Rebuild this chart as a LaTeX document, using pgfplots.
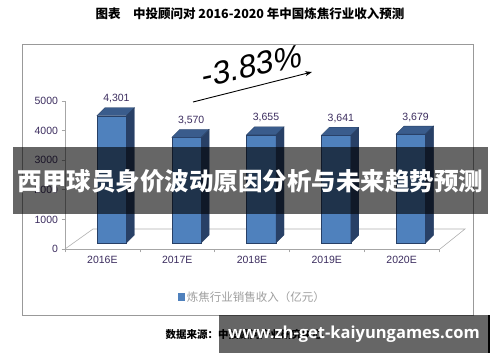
\documentclass[border=0pt]{standalone}
\usepackage{fontspec}
\setmainfont{Liberation Sans}
\newfontfamily\cjk{Noto Sans CJK SC}
\newfontfamily\wm{Open Sans}
\newfontfamily\pctfont{Liberation Sans}[FakeSlant=0.2]
\usepackage{pgfplots}
\pgfplotsset{compat=1.18}
\usepackage{pgfplotstable}
\usetikzlibrary{arrows.meta}
\definecolor{barfront}{RGB}{79,129,189}
\definecolor{bartop}{RGB}{58,92,140}
\definecolor{barside}{RGB}{40,64,102}
\definecolor{labcol}{RGB}{60,45,95}

\pgfplotstableread{
x v
0 4301
1 3570
2 3655
3 3641
4 3679
}\revtable

\pgfdeclareplotmark{bar3d}{%
  \pgfmathsetmacro\hb{6-0.0296*\ry}%
  \pgfmathsetmacro\hs{14-0.0296*\ry}%
  \pgfsetlinewidth{0.3bp}%
  \pgfsetstrokecolor{barside}%
  \pgfsetfillcolor{barfront}%
  \pgfpathmoveto{\pgfpoint{-5.5bp}{\hb bp}}%
  \pgfpathlineto{\pgfpoint{24bp}{\hb bp}}%
  \pgfpathlineto{\pgfpoint{24bp}{6bp}}%
  \pgfpathlineto{\pgfpoint{-5.5bp}{6bp}}%
  \pgfpathclose
  \pgfusepath{fill,stroke}%
  \pgfsetfillcolor{bartop}%
  \pgfpathmoveto{\pgfpoint{-5.5bp}{6bp}}%
  \pgfpathlineto{\pgfpoint{24bp}{6bp}}%
  \pgfpathlineto{\pgfpoint{32bp}{14bp}}%
  \pgfpathlineto{\pgfpoint{2.5bp}{14bp}}%
  \pgfpathclose
  \pgfusepath{fill,stroke}%
  \pgfsetfillcolor{barside}%
  \pgfpathmoveto{\pgfpoint{24bp}{\hb bp}}%
  \pgfpathlineto{\pgfpoint{24bp}{6bp}}%
  \pgfpathlineto{\pgfpoint{32bp}{14bp}}%
  \pgfpathlineto{\pgfpoint{32bp}{\hs bp}}%
  \pgfpathclose
  \pgfusepath{fill,stroke}%
}

\begin{document}
\begin{tikzpicture}
\path[use as bounding box] (0,0) rectangle (500bp,362bp);
\fill[white] (0,0) rectangle (500bp,362bp);
\draw[gray!80, line width=0.8bp] (22bp,47bp) rectangle (473bp,318bp);
\node[font=\cjk\bfseries\fontsize{12.5bp}{14bp}\selectfont] at (250bp,348bp) {图表\hspace{1em}中投顾问对 2016-2020 年中国炼焦行业收入预测};
\draw[gray!60, line width=0.6bp] (65bp,113bp) -- (93bp,133bp) -- (465bp,133bp) -- (440bp,113bp);
\begin{axis}[
  at={(65bp,113bp)}, anchor=south west, scale only axis,
  width=374bp, height=148bp,
  xmin=-0.5, xmax=4.5, ymin=0, ymax=5000,
  axis x line*=bottom, axis y line*=left,
  axis line style={gray!70, line width=0.6bp},
  xtick={-0.5,0.5,1.5,2.5,3.5,4.5}, x tick label as interval,
  xticklabels={2016E,2017E,2018E,2019E,2020E},
  ytick={0,1000,2000,3000,4000,5000}, yticklabels={0,1000,2000,3000,4000,5000},
  tick align=outside, major tick length=3.5bp,
  tick style={gray!70, line width=0.6bp},
  ticklabel style={font=\fontsize{10.5bp}{12bp}\selectfont, text=labcol},
  clip=false,
  legend style={at={(axis description cs:0.501,-0.324)}, anchor=center, draw=none, fill=none,
    font=\cjk\fontsize{11.5bp}{13bp}\selectfont, text=gray!75},
  legend image code/.code={\fill[barfront] (0bp,-3bp) rectangle (6.5bp,3.5bp);},
]
\addplot[only marks, mark=bar3d, visualization depends on={\thisrow{v} \as \ry},
  nodes near coords,
  nodes near coords style={anchor=center, xshift=14bp, yshift=23bp,
    font=\fontsize{10.5bp}{12bp}\selectfont, text=labcol,
    /pgf/number format/1000 sep={,}, /pgf/number format/assume math mode=true}]
  table[x=x,y=v]{\revtable};
\addlegendentry{炼焦行业销售收入（亿元）}
\end{axis}
\node[rotate=12, font=\pctfont\fontsize{32bp}{34bp}\selectfont] at (250bp,296bp) {-3.83\%};
\draw[-{Stealth[length=7bp,width=5bp]}, line width=0.9bp] (193bp,260bp) -- (312bp,290bp);
\node[anchor=west, font=\cjk\bfseries\fontsize{10.5bp}{12bp}\selectfont] at (162bp,27bp) {数据来源：中投顾问产业研究中心};
\fill[black, opacity=0.6] (13bp,148bp) rectangle (488bp,215bp);
\node[text=white, font=\cjk\bfseries\fontsize{24.5bp}{26bp}\selectfont] at (250.5bp,181bp) {西甲球员身价波动原因分析与未来趋势预测};
\fill[black, opacity=0.6] (219bp,9bp) rectangle (489bp,47bp);
\draw[black, line width=1.2bp] (489bp,9bp) -- (489bp,47bp);
\node[text=white, font=\wm\bfseries\fontsize{16.5bp}{18bp}\selectfont] at (354bp,28bp) {www.zh-get-kaiyungames.com};
\end{tikzpicture}
\end{document}
